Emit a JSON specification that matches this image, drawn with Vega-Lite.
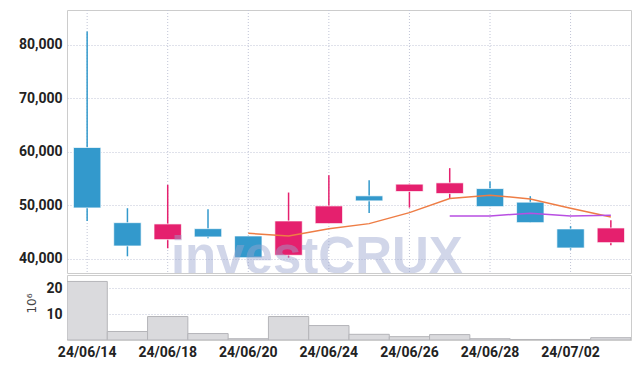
{
  "$schema": "https://vega.github.io/schema/vega-lite/v6.json",
  "padding": {"left": 17, "top": 9, "right": 10, "bottom": 5},
  "spacing": 0,
  "config": {
    "view": {"stroke": "#cccccc", "strokeWidth": 1},
    "concat": {"spacing": 0},
    "axis": {
      "domain": false,
      "ticks": false,
      "labelPadding": 5,
      "gridColor": "#c0c4d6",
      "gridDash": [1, 2],
      "gridWidth": 1,
      "labelFont": "Roboto",
      "labelFontWeight": "bold",
      "labelFontSize": 14,
      "labelColor": "#222222"
    }
  },
  "datasets": {
    "d": [
      {"date": "24/06/14", "open": 60750, "high": 82420, "low": 47020, "close": 49460, "ma5": null, "ma10": null, "vol": 22.7},
      {"date": "24/06/17", "open": 46700, "high": 49400, "low": 40410, "close": 42340, "ma5": null, "ma10": null, "vol": 3.3},
      {"date": "24/06/18", "open": 43520, "high": 53770, "low": 41910, "close": 46460, "ma5": null, "ma10": null, "vol": 9.1},
      {"date": "24/06/19", "open": 45580, "high": 49210, "low": 43780, "close": 44030, "ma5": null, "ma10": null, "vol": 2.5},
      {"date": "24/06/20", "open": 44210, "high": 44250, "low": 40150, "close": 40150, "ma5": 44720, "ma10": null, "vol": 0.5},
      {"date": "24/06/21", "open": 40600, "high": 52330, "low": 40150, "close": 47020, "ma5": 44210, "ma10": null, "vol": 9.1},
      {"date": "24/06/24", "open": 46520, "high": 55580, "low": 46520, "close": 49830, "ma5": 45580, "ma10": null, "vol": 5.6},
      {"date": "24/06/25", "open": 51710, "high": 54650, "low": 48520, "close": 50770, "ma5": 46520, "ma10": null, "vol": 2.2},
      {"date": "24/06/26", "open": 52520, "high": 54010, "low": 49520, "close": 53900, "ma5": 48580, "ma10": null, "vol": 1.3},
      {"date": "24/06/27", "open": 52140, "high": 56890, "low": 51140, "close": 54140, "ma5": 51200, "ma10": 47960, "vol": 2.1},
      {"date": "24/06/28", "open": 53070, "high": 54380, "low": 49700, "close": 49700, "ma5": 51840, "ma10": 47960, "vol": 0.5},
      {"date": "24/07/01", "open": 50530, "high": 51650, "low": 46700, "close": 46700, "ma5": 51140, "ma10": 48460, "vol": 0.2},
      {"date": "24/07/02", "open": 45530, "high": 46030, "low": 41650, "close": 41970, "ma5": 49400, "ma10": 47960, "vol": 0.2},
      {"date": "24/07/03", "open": 42960, "high": 47150, "low": 42470, "close": 45710, "ma5": 47770, "ma10": 48080, "vol": 0.9}
    ],
    "grid": [
      {"date": "24/06/14"}, {"date": "24/06/18"}, {"date": "24/06/20"}, {"date": "24/06/24"},
      {"date": "24/06/26"}, {"date": "24/06/28"}, {"date": "24/07/02"}
    ]
  },
  "vconcat": [
    {
      "width": 564,
      "height": 263,
      "encoding": {
        "x": {
          "field": "date", "type": "ordinal", "sort": null,
          "scale": {"type": "band", "paddingInner": 0, "paddingOuter": 0,
            "domain": ["24/06/14", "24/06/17", "24/06/18", "24/06/19", "24/06/20", "24/06/21", "24/06/24", "24/06/25", "24/06/26", "24/06/27", "24/06/28", "24/07/01", "24/07/02", "24/07/03"]},
          "axis": null
        }
      },
      "layer": [
        {
          "data": {"name": "grid"},
          "mark": {"type": "rule", "color": "#c0c4d6", "strokeDash": [1, 2], "strokeWidth": 1},
          "encoding": {}
        },
        {
          "data": {"name": "d"},
          "mark": {"type": "rule", "strokeWidth": 1.5},
          "encoding": {
            "y": {"field": "low", "type": "quantitative",
              "scale": {"domain": [37290, 86450], "nice": false, "zero": false},
              "axis": {"title": null, "values": [40000, 50000, 60000, 70000, 80000], "format": ",d"}},
            "y2": {"field": "high"},
            "color": {"condition": {"test": "datum.close >= datum.open", "value": "#e5206e"}, "value": "#3399cc"}
          }
        },
        {
          "data": {"name": "d"},
          "mark": {"type": "bar", "width": {"band": 0.68}, "stroke": "#ffffff", "strokeOpacity": 0.7, "strokeWidth": 1},
          "encoding": {
            "y": {"field": "open", "type": "quantitative"},
            "y2": {"field": "close"},
            "fill": {"condition": {"test": "datum.close >= datum.open", "value": "#e5206e"}, "value": "#3399cc"}
          }
        },
        {
          "data": {"name": "d"},
          "mark": {"type": "line", "color": "#ee7d45", "strokeWidth": 1.5},
          "encoding": {"y": {"field": "ma5", "type": "quantitative"}}
        },
        {
          "data": {"name": "d"},
          "mark": {"type": "line", "color": "#b84fe2", "strokeWidth": 1.5},
          "encoding": {"y": {"field": "ma10", "type": "quantitative"}}
        },
        {
          "data": {"values": [{"t": "investCRUX"}]},
          "mark": {"type": "text", "font": "Liberation Sans", "fontWeight": "bold", "fontSize": 51, "clip": true,
            "fill": "#9aa5d0", "opacity": 0.45, "baseline": "alphabetic", "align": "center", "xOffset": -12},
          "encoding": {
            "x": {"datum": "24/06/24"},
            "y": {"datum": 37290},
            "text": {"field": "t"}
          }
        }
      ]
    },
    {
      "width": 564,
      "height": 65,
      "data": {"name": "d"},
      "mark": {"type": "bar", "fill": "#dadadd", "stroke": "#b5b5b9", "strokeWidth": 1, "clip": true},
      "encoding": {
        "x": {
          "field": "date", "type": "ordinal", "sort": null,
          "scale": {"type": "band", "paddingInner": 0, "paddingOuter": 0,
            "domain": ["24/06/14", "24/06/17", "24/06/18", "24/06/19", "24/06/20", "24/06/21", "24/06/24", "24/06/25", "24/06/26", "24/06/27", "24/06/28", "24/07/01", "24/07/02", "24/07/03"]},
          "axis": {"title": null, "labelAngle": 0, "bandPosition": 0.5,
            "values": ["24/06/14", "24/06/18", "24/06/20", "24/06/24", "24/06/26", "24/06/28", "24/07/02"]}
        },
        "y": {
          "field": "vol", "type": "quantitative",
          "scale": {"domain": [0, 25.2], "nice": false},
          "axis": {"title": "10⁶", "values": [10, 20], "titleFont": "DejaVu Sans", "titleFontSize": 12,
            "titleFontWeight": "normal", "titleColor": "#444444", "titleAngle": -90,
            "titleX": -36, "titleY": 28, "titleAlign": "center", "titleBaseline": "middle"}
        }
      }
    }
  ]
}
